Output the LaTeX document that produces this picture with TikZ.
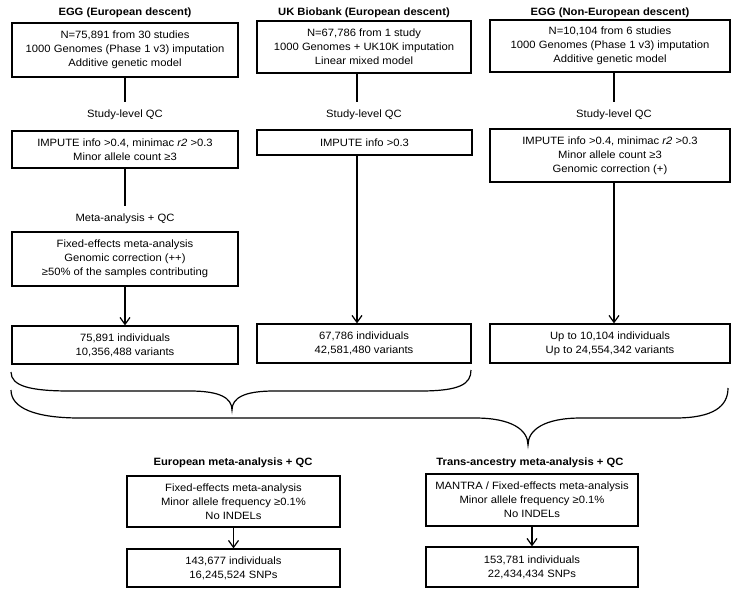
\documentclass[tikz,border=0pt]{standalone}
\usepackage{fontspec}
\setmainfont[FakeStretch=1.06]{Liberation Sans}
\usetikzlibrary{arrows.meta}
\begin{document}
\begin{tikzpicture}[x=1pt,y=-1pt,
  every node/.style={font=\fontsize{10.6}{14}\selectfont},
  box/.style={draw, line width=1.2pt, align=center, inner sep=0pt},
  ttl/.style={font=\fontsize{10.6}{14}\selectfont\bfseries},
  lab/.style={inner sep=0pt, outer sep=8pt},
  conn/.style={line width=1.2pt},
  arr/.style={line width=1.2pt, -{Straight Barb[length=7pt,width=10pt]}},
  brace/.style={line width=1.2pt}]
\useasboundingbox (0,0) rectangle (744,595);

% Column 1
\node[ttl] (t1) at (125,13) {EGG (European descent)};
\node[box, minimum width=226, minimum height=54] (a1) at (125,50)
  {N=75,891 from 30 studies\\1000 Genomes (Phase 1 v3) imputation\\Additive genetic model};
\node[lab] (l1) at (125,115) {Study-level QC};
\node[box, minimum width=226, minimum height=37] (a2) at (125,149.5)
  {IMPUTE info >0.4, minimac \textit{r2} >0.3\\Minor allele count ≥3};
\node[lab] (m1) at (125,219) {Meta-analysis + QC};
\node[box, minimum width=226, minimum height=54] (a3) at (125,259)
  {Fixed-effects meta-analysis\\Genomic correction (++)\\≥50\% of the samples contributing};
\node[box, minimum width=226, minimum height=38] (a4) at (125,345)
  {75,891 individuals\\10,356,488 variants};
\draw[conn] (a1) -- (l1);
\draw[conn] (a2) -- (m1);
\draw[arr] (a3) -- (a4);

% Column 2
\coordinate (c2x) at (357,0);
\node[ttl] (t2) at (364,13) {UK Biobank (European descent)};
\node[box, minimum width=214, minimum height=52] (b1) at (364,47)
  {N=67,786 from 1 study\\1000 Genomes + UK10K imputation\\Linear mixed model};
\node[lab] (l2) at (364,115) {Study-level QC};
\node[box, minimum width=215, minimum height=25] (b2) at (364.5,142.5)
  {IMPUTE info >0.3};
\node[box, minimum width=214, minimum height=39] (b4) at (364,343.5)
  {67,786 individuals\\42,581,480 variants};
\draw[conn] (b1.south -| c2x) -- (l2.north -| c2x);
\draw[arr] (b2.south -| c2x) -- (b4.north -| c2x);

% Column 3
\coordinate (c3x) at (614,0);
\node[ttl] (t3) at (610,13) {EGG (Non-European descent)};
\node[box, minimum width=240, minimum height=52] (d1) at (610,46)
  {N=10,104 from 6 studies\\1000 Genomes (Phase 1 v3) imputation\\Additive genetic model};
\node[lab] (l3) at (614,115) {Study-level QC};
\node[box, minimum width=240, minimum height=53] (d2) at (610,155.5)
  {IMPUTE info >0.4, minimac \textit{r2} >0.3\\Minor allele count ≥3\\Genomic correction (+)};
\node[box, minimum width=240, minimum height=39] (d4) at (610,343.5)
  {Up to 10,104 individuals\\Up to 24,554,342 variants};
\draw[conn] (d1.south -| c3x) -- (l3.north -| c3x);
\draw[arr] (d2.south -| c3x) -- (d4.north -| c3x);

% Braces
\draw[brace] (11,372) .. controls (11,386) and (30,391) .. (70,391)
  -- (190,391) .. controls (220,391) and (232,398) .. (232,410)
  .. controls (232,398) and (244,391) .. (274,391)
  -- (420,391) .. controls (460,391) and (471,384) .. (471,370);
\draw[brace] (11,390) .. controls (11,408) and (35,418) .. (80,418)
  -- (475,418) .. controls (512,418) and (528,430) .. (528,445)
  .. controls (528,430) and (544,418) .. (581,418)
  -- (675,418) .. controls (714,418) and (728,406) .. (728,388);

% Bottom left
\node[ttl] (te) at (233,463) {European meta-analysis + QC};
\node[box, minimum width=213, minimum height=51] (e1) at (233.5,501.5)
  {Fixed-effects meta-analysis\\Minor allele frequency ≥0.1\%\\No INDELs};
\node[box, minimum width=213, minimum height=38] (e2) at (233.5,568)
  {143,677 individuals\\16,245,524 SNPs};
\draw[arr] (e1) -- (e2);

% Bottom right
\node[ttl] (tt) at (530,463) {Trans-ancestry meta-analysis + QC};
\node[box, minimum width=212, minimum height=52] (f1) at (532,500)
  {MANTRA / Fixed-effects meta-analysis\\Minor allele frequency ≥0.1\%\\No INDELs};
\node[box, minimum width=212, minimum height=40] (f2) at (532,567)
  {153,781 individuals\\22,434,434 SNPs};
\draw[arr] (f1) -- (f2);
\end{tikzpicture}
\end{document}
